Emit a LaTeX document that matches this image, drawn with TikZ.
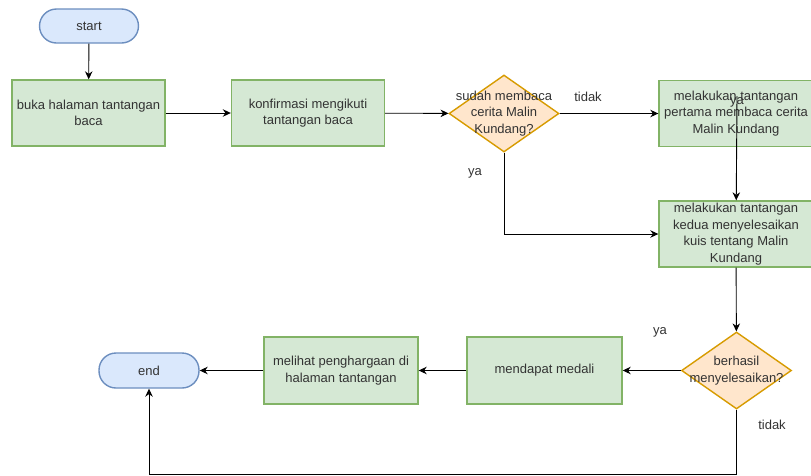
\documentclass[tikz,border=0pt]{standalone}
\usepackage{fontspec}
\setmainfont{Liberation Sans}
\usetikzlibrary{shapes.geometric,arrows.meta}

\definecolor{hijau}{HTML}{D5E8D4}
\definecolor{hijaugaris}{HTML}{82B366}
\definecolor{biru}{HTML}{DAE8FC}
\definecolor{birugaris}{HTML}{6C8EBF}
\definecolor{jingga}{HTML}{FFE6CC}
\definecolor{jinggagaris}{HTML}{D79B00}
\definecolor{teks}{HTML}{333333}

\begin{document}
\begin{tikzpicture}[x=1pt, y=-1pt,
		every node/.style={font=\fontsize{13}{16.6}\selectfont, text=teks, align=center, inner sep=0pt},
		proses/.style={rectangle, draw=hijaugaris, fill=hijau, line width=1.4pt, minimum width=153pt, minimum height=66pt},
		terminal/.style={rectangle, rounded corners=17pt, draw=birugaris, fill=biru, line width=1.4pt, minimum width=99pt, minimum height=34pt},
		keputusan/.style={diamond, draw=jinggagaris, fill=jingga, line width=1.4pt, minimum width=110pt, minimum height=77pt},
		alur/.style={-{Stealth[length=8pt, width=7.5pt]}, line width=0.9pt, black}]
	\useasboundingbox (0,0) rectangle (811,475);

	\node[terminal] (start) at (89,26) {start};
	\node[proses] (buka) at (88.5,113) {buka halaman tantangan\\baca};
	\node[proses] (konfirmasi) at (308,113) {konfirmasi mengikuti\\tantangan baca};
	\node[keputusan, label={center:sudah membaca\\cerita Malin\\Kundang?}] (sudah) at (504,113.5) {};
	\node[proses, minimum width=154pt] (pertama) at (736,113.5) {melakukan tantangan\\pertama membaca cerita\\Malin Kundang};
	\node[proses, minimum width=154pt] (kedua) at (736,234) {melakukan tantangan\\kedua menyelesaikan\\kuis tentang Malin\\Kundang};
	\node[keputusan, label={center:berhasil\\menyelesaikan?}] (berhasil) at (736.5,370.5) {};
	\node[proses, minimum width=155pt, minimum height=67pt] (medali) at (544.5,370.5) {mendapat medali};
	\node[proses, minimum width=154pt, minimum height=67pt] (lihat) at (341,370.5) {melihat penghargaan di\\halaman tantangan};
	\node[terminal, minimum width=100pt, minimum height=35pt] (end) at (149,370.5) {end};

	\coordinate (dalam) at (737,96);
	\coordinate (bawah) at (736.5,474);

	\draw[alur] (start) -- (buka);
	\draw[alur] (buka) -- (konfirmasi);
	\draw[alur] (konfirmasi) -- (sudah);
	\draw[alur] (sudah) -- (pertama);
	\draw[alur] (sudah.south) |- (kedua.west);
	\draw[alur] (dalam) -- (kedua);
	\draw[alur] (kedua) -- (berhasil);
	\draw[alur] (berhasil) -- (medali);
	\draw[alur] (medali) -- (lihat);
	\draw[alur] (lihat) -- (end);
	\draw[alur] (berhasil.south) -- (bawah) -| (end.south);

	\node (tidak1) at (588,97) {tidak};
	\node (ya1) at (475,173) {ya};
	\node (ya2) at (737,102) {ya};
	\node (ya3) at (660,332) {ya};
	\node (tidak2) at (772,425) {tidak};
\end{tikzpicture}
\end{document}
